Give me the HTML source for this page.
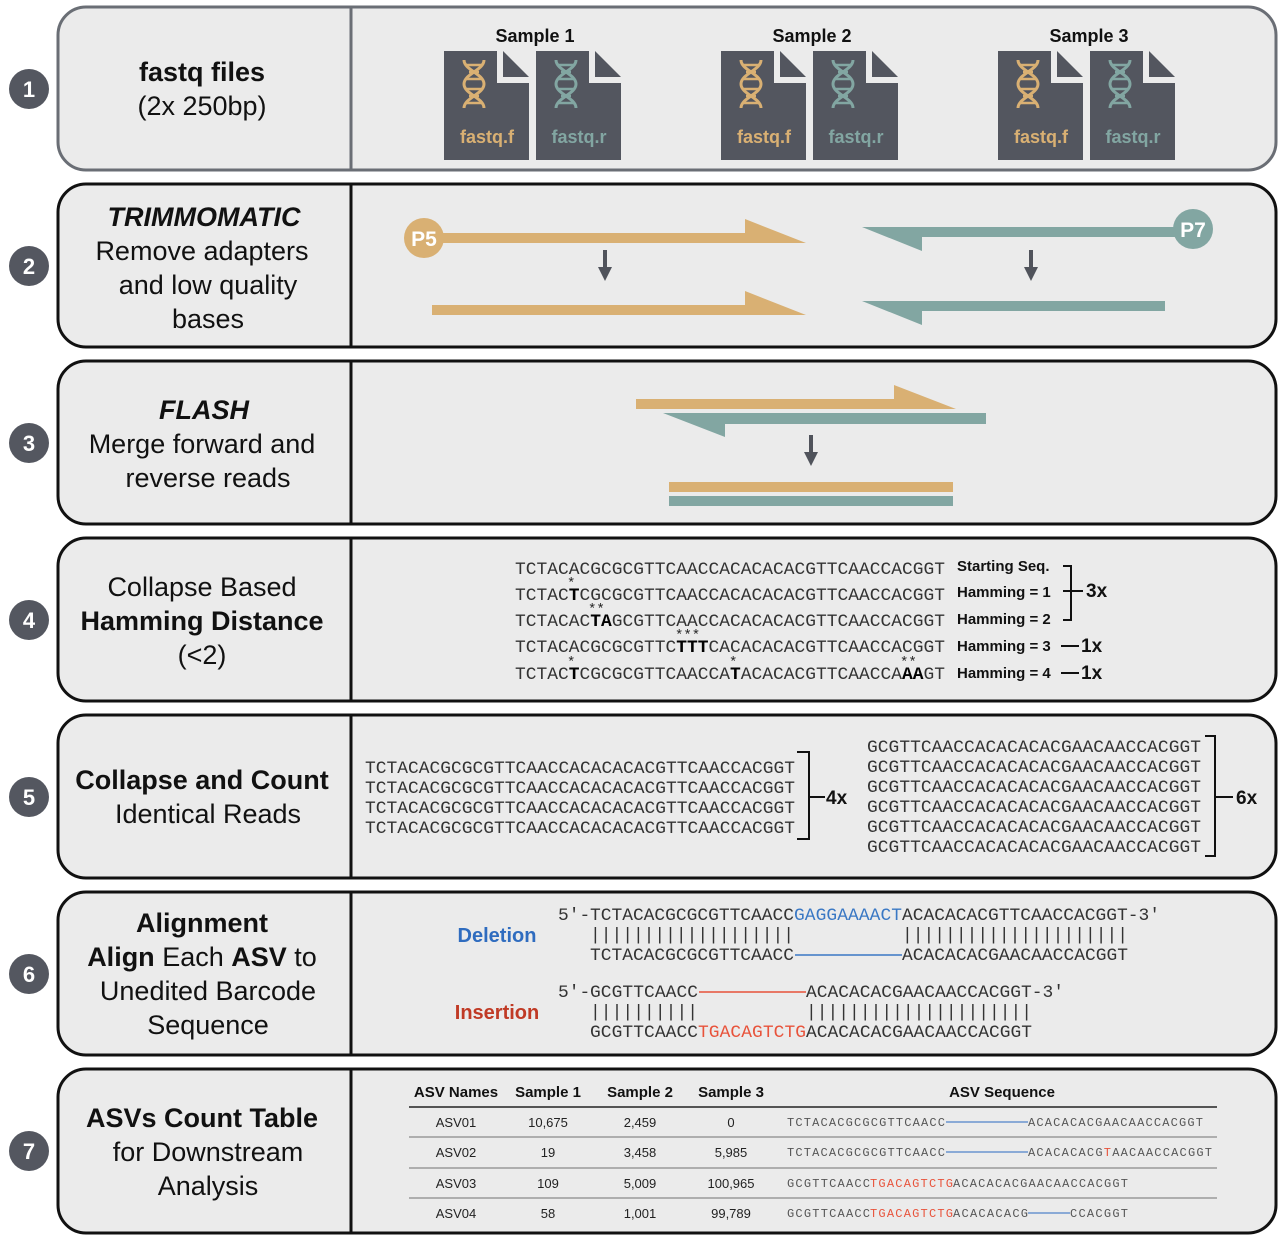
<!DOCTYPE html>
<html><head><meta charset="utf-8"><style>
html,body{margin:0;padding:0;background:#fff;}
svg{display:block;}
.l{font-family:"Liberation Sans",sans-serif;font-size:27px;fill:#111;text-anchor:middle;}
.b{font-weight:bold;}
.m{font-family:"Liberation Mono",monospace;font-size:17.9px;fill:#333;}
.s{font-family:"Liberation Sans",sans-serif;font-weight:bold;font-size:15px;fill:#111;}
.t{font-family:"Liberation Sans",sans-serif;font-size:13px;fill:#222;text-anchor:middle;}
.th{font-family:"Liberation Sans",sans-serif;font-size:15px;font-weight:bold;fill:#111;text-anchor:middle;}
.q{font-family:"Liberation Mono",monospace;font-size:13.9px;fill:#555;}
.num{font-family:"Liberation Sans",sans-serif;font-weight:bold;font-size:22px;fill:#fff;text-anchor:middle;}
</style></head><body>
<svg width="1286" height="1242" viewBox="0 0 1286 1242" xmlns="http://www.w3.org/2000/svg">
<defs>
<g id="dna">
<path d="M-10,0 C-10,10 10,14 10,24 C10,34 -10,38 -10,48 M10,0 C10,10 -10,14 -10,24 C-10,34 10,38 10,48" fill="none" stroke-width="3"/>
<path d="M-8,5 H8 M-5,12 H5 M-7,19 H7 M-7,29 H7 M-5,36 H5 M-8,43 H8" stroke-width="2.5"/>
</g>
<g id="file"><path d="M0,0 H55 V30 H85 V109 H0 Z" fill="#53565f"/><path d="M59,0 L85,26 H59 Z" fill="#53565f"/><path d="M55,0 V30 H85" fill="none" stroke="#ebebeb" stroke-width="4"/></g>
</defs>
<rect width="1286" height="1242" fill="#fff"/>
<g fill="#ebebeb" stroke-width="3">
<rect x="58" y="7" width="1218" height="163" rx="28" stroke="#6a6e75"/>
<rect x="58" y="184" width="1218" height="163" rx="28" stroke="#111"/>
<rect x="58" y="361" width="1218" height="163" rx="28" stroke="#111"/>
<rect x="58" y="538" width="1218" height="163" rx="28" stroke="#111"/>
<rect x="58" y="715" width="1218" height="163" rx="28" stroke="#111"/>
<rect x="58" y="892" width="1218" height="163" rx="28" stroke="#111"/>
<rect x="58" y="1069" width="1218" height="164" rx="28" stroke="#111"/>
</g>
<g stroke-width="3">
<line x1="351" y1="8" x2="351" y2="169" stroke="#6a6e75"/>
<line x1="351" y1="185" x2="351" y2="346" stroke="#111"/>
<line x1="351" y1="362" x2="351" y2="523" stroke="#111"/>
<line x1="351" y1="539" x2="351" y2="700" stroke="#111"/>
<line x1="351" y1="716" x2="351" y2="877" stroke="#111"/>
<line x1="351" y1="893" x2="351" y2="1054" stroke="#111"/>
<line x1="351" y1="1070" x2="351" y2="1232" stroke="#111"/>
</g>
<g fill="#545760">
<circle cx="29" cy="89" r="20"/><circle cx="29" cy="266" r="20"/><circle cx="29" cy="443" r="20"/><circle cx="29" cy="620" r="20"/><circle cx="29" cy="797" r="20"/><circle cx="29" cy="974" r="20"/><circle cx="29" cy="1151" r="20"/>
</g>
<text class="num" x="29" y="97">1</text><text class="num" x="29" y="274">2</text><text class="num" x="29" y="451">3</text><text class="num" x="29" y="628">4</text><text class="num" x="29" y="805">5</text><text class="num" x="29" y="982">6</text><text class="num" x="29" y="1159">7</text>
<text class="l b" x="202" y="81">fastq files</text>
<text class="l" x="202" y="115">(2x 250bp)</text>
<text class="l b" x="204" y="226" font-style="italic">TRIMMOMATIC</text>
<text class="l" x="202" y="260">Remove adapters</text>
<text class="l" x="208" y="294">and low quality</text>
<text class="l" x="208" y="328">bases</text>
<text class="l b" x="204" y="419" font-style="italic">FLASH</text>
<text class="l" x="202" y="453">Merge forward and</text>
<text class="l" x="208" y="487">reverse reads</text>
<text class="l" x="202" y="596">Collapse Based</text>
<text class="l b" x="202" y="630">Hamming Distance</text>
<text class="l" x="202" y="664">(&lt;2)</text>
<text class="l b" x="202" y="789">Collapse and Count</text>
<text class="l" x="208" y="823">Identical Reads</text>
<text class="l b" x="202" y="932">Alignment</text>
<text class="l" x="202" y="966"><tspan font-weight="bold">Align</tspan> Each <tspan font-weight="bold">ASV</tspan> to</text>
<text class="l" x="208" y="1000">Unedited Barcode</text>
<text class="l" x="208" y="1034">Sequence</text>
<text class="l b" x="202" y="1127">ASVs Count Table</text>
<text class="l" x="208" y="1161">for Downstream</text>
<text class="l" x="208" y="1195">Analysis</text>
<g font-family="Liberation Sans,sans-serif" font-weight="bold">
<text x="535" y="42" font-size="18" text-anchor="middle" fill="#111">Sample 1</text>
<text x="812" y="42" font-size="18" text-anchor="middle" fill="#111">Sample 2</text>
<text x="1089" y="42" font-size="18" text-anchor="middle" fill="#111">Sample 3</text>
<g transform="translate(444,51)"><use href="#file"/><use href="#dna" x="30" y="9" stroke="#d9b073"/><text x="43" y="92" font-size="18" fill="#d9b073" text-anchor="middle">fastq.f</text></g>
<g transform="translate(536,51)"><use href="#file"/><use href="#dna" x="30" y="9" stroke="#82a6a2"/><text x="43" y="92" font-size="18" fill="#82a6a2" text-anchor="middle">fastq.r</text></g>
<g transform="translate(721,51)"><use href="#file"/><use href="#dna" x="30" y="9" stroke="#d9b073"/><text x="43" y="92" font-size="18" fill="#d9b073" text-anchor="middle">fastq.f</text></g>
<g transform="translate(813,51)"><use href="#file"/><use href="#dna" x="30" y="9" stroke="#82a6a2"/><text x="43" y="92" font-size="18" fill="#82a6a2" text-anchor="middle">fastq.r</text></g>
<g transform="translate(998,51)"><use href="#file"/><use href="#dna" x="30" y="9" stroke="#d9b073"/><text x="43" y="92" font-size="18" fill="#d9b073" text-anchor="middle">fastq.f</text></g>
<g transform="translate(1090,51)"><use href="#file"/><use href="#dna" x="30" y="9" stroke="#82a6a2"/><text x="43" y="92" font-size="18" fill="#82a6a2" text-anchor="middle">fastq.r</text></g>
</g>
<polygon points="432,233 745,233 745,219 806,243 432,243" fill="#d9b073"/>
<polygon points="432,305 745,305 745,291 806,315 432,315" fill="#d9b073"/>
<circle cx="424" cy="238" r="20" fill="#d9b073"/>
<text x="424" y="246" font-family="Liberation Sans,sans-serif" font-weight="bold" font-size="21" fill="#fff" text-anchor="middle">P5</text>
<polygon points="862,227 1190,227 1190,237 922,237 922,251" fill="#82a6a2"/>
<polygon points="862,301 1165,301 1165,311 922,311 922,325" fill="#82a6a2"/>
<circle cx="1193" cy="229" r="20" fill="#82a6a2"/>
<text x="1193" y="237" font-family="Liberation Sans,sans-serif" font-weight="bold" font-size="21" fill="#fff" text-anchor="middle">P7</text>
<g fill="#50535b">
<rect x="603" y="250" width="4" height="18"/><polygon points="598,267 612,267 605,281"/>
<rect x="1029" y="250" width="4" height="18"/><polygon points="1024,267 1038,267 1031,281"/>
<rect x="809" y="435" width="4" height="18"/><polygon points="804,452 818,452 811,466"/>
</g>
<polygon points="636,399 894,399 894,385 956,409 636,409" fill="#d9b073"/>
<polygon points="663,413 986,413 986,424 725,424 725,437" fill="#82a6a2"/>
<rect x="669" y="482" width="284" height="10" fill="#d9b073"/>
<rect x="669" y="496" width="284" height="10" fill="#82a6a2"/>
<g class="m">
<text x="515" y="574" textLength="430">TCTACACGCGCGTTCAACCACACACACGTTCAACCACGGT</text>
<text x="515" y="600" textLength="430">TCTAC<tspan font-weight="bold" fill="#000">T</tspan>CGCGCGTTCAACCACACACACGTTCAACCACGGT</text>
<text x="515" y="626" textLength="430">TCTACAC<tspan font-weight="bold" fill="#000">TA</tspan>GCGTTCAACCACACACACGTTCAACCACGGT</text>
<text x="515" y="652" textLength="430">TCTACACGCGCGTTC<tspan font-weight="bold" fill="#000">TTT</tspan>CACACACACGTTCAACCACGGT</text>
<text x="515" y="679" textLength="430">TCTAC<tspan font-weight="bold" fill="#000">T</tspan>CGCGCGTTCAACCA<tspan font-weight="bold" fill="#000">T</tspan>ACACACGTTCAACCA<tspan font-weight="bold" fill="#000">AA</tspan>GT</text>
</g>
<g font-family="Liberation Mono,monospace" font-size="14" fill="#222">
<text x="567" y="587">*</text><text x="588" y="613">**</text><text x="675" y="639">***</text><text x="567" y="666">*</text><text x="729" y="666">*</text><text x="900" y="666">**</text>
</g>
<g class="s">
<text x="957" y="571">Starting Seq.</text>
<text x="957" y="597">Hamming = 1</text>
<text x="957" y="624">Hamming = 2</text>
<text x="957" y="651">Hamming = 3</text>
<text x="957" y="678">Hamming = 4</text>
<text x="1086" y="597" style="font-size:19px">3x</text>
<text x="1081" y="652" style="font-size:19px">1x</text>
<text x="1081" y="679" style="font-size:19px">1x</text>
</g>
<g stroke="#111" stroke-width="2" fill="none">
<path d="M1063,566 H1071 V620 H1063"/><path d="M1063,591 H1083"/>
<path d="M1061,646 H1079"/><path d="M1061,673 H1079"/>
</g>
<g class="m" fill="#444">
<text x="365" y="773" textLength="430">TCTACACGCGCGTTCAACCACACACACGTTCAACCACGGT</text>
<text x="365" y="793" textLength="430">TCTACACGCGCGTTCAACCACACACACGTTCAACCACGGT</text>
<text x="365" y="813" textLength="430">TCTACACGCGCGTTCAACCACACACACGTTCAACCACGGT</text>
<text x="365" y="833" textLength="430">TCTACACGCGCGTTCAACCACACACACGTTCAACCACGGT</text>
<text x="867" y="752" textLength="334">GCGTTCAACCACACACACGAACAACCACGGT</text>
<text x="867" y="772" textLength="334">GCGTTCAACCACACACACGAACAACCACGGT</text>
<text x="867" y="792" textLength="334">GCGTTCAACCACACACACGAACAACCACGGT</text>
<text x="867" y="812" textLength="334">GCGTTCAACCACACACACGAACAACCACGGT</text>
<text x="867" y="832" textLength="334">GCGTTCAACCACACACACGAACAACCACGGT</text>
<text x="867" y="852" textLength="334">GCGTTCAACCACACACACGAACAACCACGGT</text>
</g>
<g stroke="#111" stroke-width="2" fill="none">
<path d="M797,752 H809 V839 H797"/><path d="M809,797 H825"/>
<path d="M1205,736 H1215 V856 H1205"/><path d="M1215,797 H1233"/>
</g>
<text class="s" x="826" y="804" style="font-size:19px">4x</text>
<text class="s" x="1236" y="804" style="font-size:19px">6x</text>
<g class="m" fill="#222">
<text x="558" y="920">5′-<tspan x="590" textLength="204">TCTACACGCGCGTTCAACC</tspan><tspan x="794" fill="#3a78c4" textLength="108">GAGGAAAACT</tspan><tspan x="902" textLength="258">ACACACACGTTCAACCACGGT-3′</tspan></text>
<text x="590" y="940" textLength="204">|||||||||||||||||||</text>
<text x="902" y="940" textLength="226">|||||||||||||||||||||</text>
<text x="590" y="960" textLength="204">TCTACACGCGCGTTCAACC</text>
<text x="902" y="960" textLength="226">ACACACACGAACAACCACGGT</text>
<text x="558" y="997">5′-<tspan x="590" textLength="108">GCGTTCAACC</tspan></text>
<text x="806" y="997" textLength="258">ACACACACGAACAACCACGGT-3′</text>
<text x="590" y="1017" textLength="108">||||||||||</text>
<text x="806" y="1017" textLength="226">|||||||||||||||||||||</text>
<text x="590" y="1037" textLength="108">GCGTTCAACC</text>
<text x="698" y="1037" fill="#e8533b" textLength="108">TGACAGTCTG</text>
<text x="806" y="1037" textLength="226">ACACACACGAACAACCACGGT</text>
</g>
<line x1="795" y1="955" x2="902" y2="955" stroke="#3a78c4" stroke-width="1.5"/>
<line x1="699" y1="992" x2="806" y2="992" stroke="#e8533b" stroke-width="1.5"/>
<text x="497" y="942" font-family="Liberation Sans,sans-serif" font-weight="bold" font-size="20" fill="#2f6cbf" text-anchor="middle">Deletion</text>
<text x="497" y="1019" font-family="Liberation Sans,sans-serif" font-weight="bold" font-size="20" fill="#c03a25" text-anchor="middle">Insertion</text>
<g class="th">
<text x="456" y="1097">ASV Names</text><text x="548" y="1097">Sample 1</text><text x="640" y="1097">Sample 2</text><text x="731" y="1097">Sample 3</text><text x="1002" y="1097">ASV Sequence</text>
</g>
<line x1="409" y1="1107" x2="1217" y2="1107" stroke="#222" stroke-width="1.5"/>
<g stroke="#999" stroke-width="1.5"><line x1="409" y1="1137" x2="1217" y2="1137"/><line x1="409" y1="1168" x2="1217" y2="1168"/><line x1="409" y1="1198" x2="1217" y2="1198"/></g>
<g class="t">
<text x="456" y="1127">ASV01</text><text x="548" y="1127">10,675</text><text x="640" y="1127">2,459</text><text x="731" y="1127">0</text>
<text x="456" y="1157">ASV02</text><text x="548" y="1157">19</text><text x="640" y="1157">3,458</text><text x="731" y="1157">5,985</text>
<text x="456" y="1188">ASV03</text><text x="548" y="1188">109</text><text x="640" y="1188">5,009</text><text x="731" y="1188">100,965</text>
<text x="456" y="1218">ASV04</text><text x="548" y="1218">58</text><text x="640" y="1218">1,001</text><text x="731" y="1218">99,789</text>
</g>
<g class="q">
<text x="787" y="1126" textLength="158" style="font-size:12px">TCTACACGCGCGTTCAACC</text><text x="1028" y="1126" textLength="175" style="font-size:12px">ACACACACGAACAACCACGGT</text>
<text x="787" y="1156" textLength="158" style="font-size:12px">TCTACACGCGCGTTCAACC</text><text x="1028" y="1156" textLength="184" style="font-size:12px">ACACACACG<tspan fill="#e8533b">T</tspan>AACAACCACGGT</text>
<text x="787" y="1187" textLength="83" style="font-size:12px">GCGTTCAACC</text><text x="870" y="1187" fill="#e8533b" textLength="83" style="font-size:12px">TGACAGTCTG</text><text x="953" y="1187" textLength="175" style="font-size:12px">ACACACACGAACAACCACGGT</text>
<text x="787" y="1217" textLength="83" style="font-size:12px">GCGTTCAACC</text><text x="870" y="1217" fill="#e8533b" textLength="83" style="font-size:12px">TGACAGTCTG</text><text x="953" y="1217" textLength="75" style="font-size:12px">ACACACACG</text><text x="1070" y="1217" textLength="58" style="font-size:12px">CCACGGT</text>
</g>
<g stroke="#6a94cf" stroke-width="1.5"><line x1="946" y1="1122" x2="1028" y2="1122"/><line x1="946" y1="1152" x2="1028" y2="1152"/><line x1="1028" y1="1213" x2="1070" y2="1213"/></g>
</svg>
</body></html>
